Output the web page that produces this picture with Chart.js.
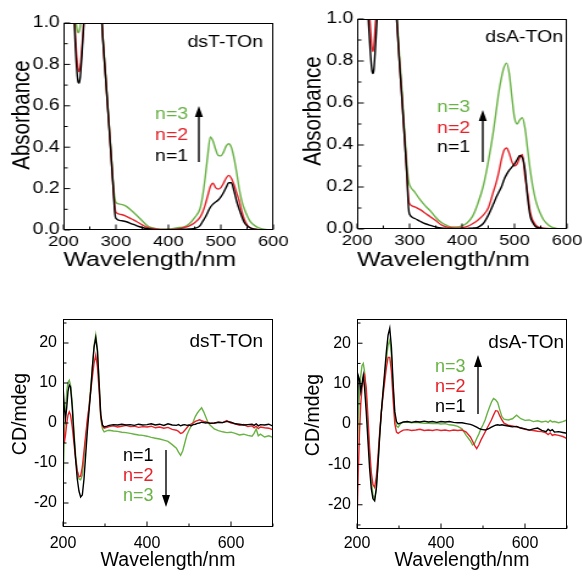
<!DOCTYPE html>
<html>
<head>
<meta charset="utf-8">
<title>dsT-TOn / dsA-TOn absorbance and CD spectra</title>
<script src="https://cdn.jsdelivr.net/npm/chart.js@4.4.1/dist/chart.umd.min.js"></script>
<style>
  html, body { margin: 0; padding: 0; background: #fff; }
  #fig { position: relative; width: 582px; height: 576px; overflow: hidden; }
  #fig canvas { position: absolute; }
  /* the top row of the figure is stretched sideways */
  #uvT { left: 0; top: 0; transform: scaleX(1.22); transform-origin: 0 0; }
  #uvA { left: 290px; top: 0; transform: scaleX(1.22); transform-origin: 0 0; }
  #cdT { left: 0; top: 290px; }
  #cdA { left: 290px; top: 290px; }
</style>
</head>
<body>
<div id="fig">
  <canvas id="uvT" width="240" height="285"></canvas>
  <canvas id="uvA" width="240" height="285"></canvas>
  <canvas id="cdT" width="290" height="286"></canvas>
  <canvas id="cdA" width="292" height="286"></canvas>
</div>
<script>
// ---- data ----
const seriesLabels = ['n=1', 'n=2', 'n=3'];
const seriesColors = ['#000000', '#e5232a', '#69b345'];

const uvXTicks = [200, 300, 400, 500, 600];
const uvYTicks = [0, 0.2, 0.4, 0.6, 0.8, 1.0];
const cdXTicks = [200, 400, 600];
const cdYTicks = [-20, -10, 0, 10, 20];

// absorbance, wavelength in nm
const uvWl = [200,210,215,220,222,225,228,230,232,235,238,240,245,250,260,270,275,280,285,290,295,298,
  300,310,320,330,340,350,360,370,380,390,400,410,420,430,440,450,460,
  465,470,475,480,485,490,495,500,505,510,515,520,525,530,535,540,545,550,555,560,
  570,580,590,600];

const absT_n1 = [2.0,1.8,1.4,1.05,0.93,0.79,0.715,0.71,0.74,0.84,0.96,1.05,1.3,1.5,1.6,1.15,0.93,0.75,0.57,0.39,0.2,0.08,
  0.056,0.045,0.04,0.03,0.02,0.012,0.006,0.003,0.002,0.002,0.002,0.002,0.003,0.004,0.005,0.008,0.02,
  0.04,0.06,0.085,0.11,0.125,0.135,0.145,0.16,0.18,0.205,0.228,0.228,0.19,0.14,0.1,0.065,0.035,0.02,0.012,0.006,
  0.002,0.001,0,0];
const absT_n2 = [2.0,1.8,1.45,1.08,0.98,0.85,0.775,0.765,0.79,0.87,0.98,1.05,1.3,1.5,1.6,1.15,0.93,0.75,0.57,0.39,0.2,0.11,
  0.085,0.075,0.066,0.053,0.04,0.025,0.012,0.007,0.004,0.003,0.003,0.004,0.006,0.012,0.02,0.035,0.06,
  0.085,0.12,0.165,0.21,0.226,0.205,0.198,0.205,0.225,0.25,0.264,0.25,0.22,0.18,0.14,0.09,0.05,0.025,0.012,0.006,
  0.003,0.001,0,0];
const absT_n3 = [2.0,1.8,1.5,1.15,1.07,0.985,0.953,0.96,0.985,1.05,1.12,1.15,1.35,1.5,1.6,1.16,0.94,0.76,0.58,0.4,0.22,0.15,
  0.133,0.124,0.114,0.093,0.07,0.045,0.02,0.01,0.005,0.004,0.005,0.008,0.012,0.015,0.03,0.06,0.1,
  0.16,0.25,0.36,0.45,0.43,0.39,0.36,0.358,0.375,0.405,0.417,0.4,0.35,0.28,0.2,0.14,0.1,0.07,0.045,0.03,
  0.013,0.005,0.001,0];

const absA_n1 = [2.0,1.8,1.4,1.07,0.97,0.85,0.76,0.74,0.76,0.87,1.0,1.08,1.3,1.5,1.6,1.2,1.02,0.82,0.64,0.45,0.25,0.1,
  0.07,0.05,0.037,0.025,0.017,0.01,0.005,0.003,0.002,0.002,0.002,0.003,0.004,0.008,0.025,0.065,0.12,
  0.15,0.175,0.2,0.235,0.26,0.28,0.295,0.31,0.33,0.35,0.34,0.28,0.15,0.06,0.03,0.012,0.006,0.003,0.002,0.001,
  0,0,0,0];
const absA_n2 = [2.0,1.8,1.45,1.15,1.07,0.97,0.87,0.845,0.87,0.98,1.06,1.1,1.3,1.5,1.6,1.2,1.02,0.82,0.64,0.45,0.26,0.14,
  0.12,0.105,0.092,0.075,0.057,0.04,0.02,0.01,0.006,0.005,0.006,0.012,0.025,0.042,0.065,0.1,0.18,
  0.22,0.27,0.33,0.375,0.386,0.36,0.32,0.3,0.31,0.34,0.355,0.25,0.17,0.08,0.04,0.02,0.01,0.007,0.004,0.003,
  0.001,0,0,0];
const absA_n3 = [2.0,1.8,1.6,1.4,1.3,1.2,1.15,1.13,1.15,1.2,1.3,1.35,1.45,1.55,1.6,1.22,1.04,0.85,0.67,0.48,0.3,0.23,
  0.21,0.175,0.14,0.11,0.085,0.055,0.032,0.018,0.01,0.01,0.015,0.03,0.06,0.12,0.2,0.32,0.47,
  0.56,0.65,0.72,0.77,0.79,0.74,0.63,0.53,0.5,0.52,0.53,0.48,0.38,0.28,0.2,0.14,0.1,0.07,0.045,0.03,
  0.01,0.003,0.001,0];

// CD in mdeg, wavelength in nm
const cdWl = [200,203,206,209,212,215,218,222,226,230,234,238,242,246,250,254,258,262,266,270,274,278,282,286,290,294,298,
  305,310,320,330,340,350,360,370,380,390,400,410,420,430,440,450,460,470,
  475,480,485,490,495,500,505,510,515,520,525,530,535,540,545,550,
  560,570,580,590,600,610,620,630,640,650,655,660,665,670,680,690,700];

const cdT_n1 = [9.5,4,1,4,8,9.5,9,4,-3,-9,-14,-17,-18.5,-18,-14,-8,-2,3,8,14,19,21.3,18,10,2,-0.5,-1,
  -0.8,-0.6,-0.4,-0.5,-0.3,-0.5,-0.4,-0.6,-0.3,-0.5,-0.4,-0.2,-0.5,-0.3,-0.6,-0.2,-0.5,-0.6,
  -0.4,-0.7,-0.5,-0.4,-0.6,-0.5,-0.7,-0.4,-0.3,-0.1,0,0.2,0.1,0,0.1,-0.1,
  0,0.2,0.1,0.4,0.2,-0.2,-0.3,-0.5,-0.4,-0.3,-0.6,-0.2,-0.7,-0.4,-0.5,-0.3,-0.8];
const cdT_n2 = [7,-5,-3,0,2,2.8,2,-1,-5,-9,-12,-13.4,-13.3,-11,-7,-3,1,4,8,11.5,15,17,14,8,1.5,-0.8,-1.3,
  -1.1,-0.9,-0.7,-1,-0.8,-0.6,-0.9,-0.8,-1.1,-0.9,-1,-0.8,-1.2,-1,-1.3,-1.1,-1.6,-1.8,
  -2.1,-2.6,-2.4,-1.8,-1.2,-0.6,-0.3,0,0.4,0.6,0.8,0.6,0.4,0.3,0.1,0,
  -0.1,0.2,0.1,0.6,0,-0.2,-0.6,-0.4,-0.9,-0.7,-1.2,-0.8,-1.4,-1,-1.2,-1.3,-1.7];
const cdT_n3 = [-16,-4,3,8,10.2,10.7,9.5,5,-2,-8,-12,-14,-14.2,-13,-9,-4,0,4,9,14,19.5,22,18.5,10,1,-1.5,-2.2,
  -1.9,-1.8,-2,-2.1,-2.3,-2.4,-2.6,-2.8,-3,-3.1,-3.3,-3.6,-3.8,-4,-4.3,-4.6,-5.4,-6.3,
  -7.3,-8.1,-7,-5,-3,-1.8,-0.8,0.3,1.6,2.5,3.2,3.8,2.8,1.5,0.2,-0.5,
  -1.5,-1.9,-2.2,-2.4,-2.3,-2.6,-3,-2.8,-3.1,-3.3,-2.6,-1.5,-3.2,-2.8,-3.5,-3.2,-3.6];

const cdA_n1 = [-2,12,11,8,10,12,9,3,-4,-11,-16,-18.5,-19,-16,-10,-3,3,8,13,18,22,23.7,19,10,3,0.6,0,
  0.3,0.5,0.6,0.4,0.6,0.5,0.7,0.5,0.6,0.4,0.6,0.5,0.6,0.4,0.3,0.3,0.1,-0.1,
  -0.3,-0.5,-0.8,-1.1,-1.3,-1.4,-1.5,-1.3,-1.1,-0.8,-0.5,-0.3,-0.2,-0.3,-0.2,-0.3,
  -0.5,-0.7,-0.6,-1,-1.2,-1.5,-1.2,-1,-1.6,-1.9,-1.3,-1.7,-1.4,-2,-1.9,-2.1,-2.3];
const cdA_n2 = [-25,-12,-2,5,9,11.5,12.2,9,2,-6,-12,-15,-15.7,-13,-8,-2,3,7,10.5,14,16.5,16.5,13,6,0,-2,-2.3,
  -1.8,-1.5,-1.4,-1.6,-1.5,-1.3,-1.6,-1.5,-1.6,-1.4,-1.6,-1.5,-1.7,-1.5,-1.6,-1.5,-2,-3.2,
  -4.2,-5.3,-6.1,-5.2,-4,-3,-2,-1,0,1,2.2,3.3,3.2,2,1,0.2,
  -0.3,-0.5,-0.7,-1,-1.3,-1.5,-1.6,-1.8,-1.9,-2.2,-2.6,-2.2,-2.8,-2.6,-2.8,-3.1,-3.6];
const cdA_n3 = [-12,0,8,12,14.5,15,13,7,-1,-8,-14,-17.5,-18.6,-16,-10,-3,3,8,12,16,19.5,20.8,17,9,2,-0.5,-0.8,
  0.2,0.4,0.5,0.3,0.4,0.3,0.2,0.2,0.1,0.2,0,0.1,-0.2,-0.3,-0.6,-1.2,-2.8,-4.2,
  -5.2,-4.8,-3.6,-2.5,-1.2,-0.2,1,2.6,4,5.4,6.3,6,5.3,3.5,1.8,1.2,
  1,1.3,2.2,1.3,0.9,1,0.6,0.8,0.5,0.7,0.4,0.9,0.5,0.6,0.3,0.6,1];

// ---- drawing ----
const fontFamily = "'Liberation Sans', Arial, Helvetica, sans-serif";
Chart.defaults.font.family = fontFamily;
Chart.defaults.color = '#000';

// panel decorations: spines, inward ticks, y title, in-plot labels, arrow
const decor = {
  uvT: { xMinor: 50, yMinor: 0.1, tick: [5, 3],
    yTitle: { text: 'Absorbance', x: 18, y: 115, size: 20.5 },
    labels: [
      { text: 'dsT-TOn', x: 215.6, y: 43, c: 0, size: 16, align: 'right' },
      { text: 'n=3', x: 127, y: 115, c: 2, size: 16, align: 'left' },
      { text: 'n=2', x: 127, y: 136, c: 1, size: 16, align: 'left' },
      { text: 'n=1', x: 127, y: 157, c: 0, size: 16, align: 'left' }
    ],
    arrow: { x: 163, from: 162, to: 106, half: 3.3, head: 11 } },
  uvA: { xMinor: 50, yMinor: 0.1, tick: [5, 3],
    yTitle: { text: 'Absorbance', x: 19, y: 111, size: 20.5 },
    labels: [
      { text: 'dsA-TOn', x: 223.8, y: 38, c: 0, size: 16, align: 'right' },
      { text: 'n=3', x: 120.5, y: 108, c: 2, size: 16, align: 'left' },
      { text: 'n=2', x: 120.5, y: 129, c: 1, size: 16, align: 'left' },
      { text: 'n=1', x: 120.5, y: 148, c: 0, size: 16, align: 'left' }
    ],
    arrow: { x: 158, from: 162, to: 110, half: 3.3, head: 11 } },
  cdT: { xMinor: 100, yMinor: 5, tick: [5, 3],
    yTitle: { text: 'CD/mdeg', x: 21, y: 124, size: 19.5 },
    labels: [
      { text: 'dsT-TOn', x: 263, y: 52, c: 0, size: 19, align: 'right' },
      { text: 'n=1', x: 123, y: 166, c: 0, size: 18, align: 'left' },
      { text: 'n=2', x: 123, y: 186, c: 1, size: 18, align: 'left' },
      { text: 'n=3', x: 123, y: 206, c: 2, size: 18, align: 'left' }
    ],
    arrow: { x: 166, from: 160, to: 217, half: 4, head: 12 } },
  cdA: { xMinor: 100, yMinor: 5, tick: [5, 3],
    yTitle: { text: 'CD/mdeg', x: 24, y: 125, size: 19.5 },
    labels: [
      { text: 'dsA-TOn', x: 274, y: 53, c: 0, size: 19, align: 'right' },
      { text: 'n=3', x: 145, y: 77, c: 2, size: 18, align: 'left' },
      { text: 'n=2', x: 145, y: 97, c: 1, size: 18, align: 'left' },
      { text: 'n=1', x: 145, y: 117, c: 0, size: 18, align: 'left' }
    ],
    arrow: { x: 188, from: 124, to: 65, half: 4, head: 12 } }
};

function eachTick(min, max, step, fn) {
  const first = Math.ceil(min / step - 1e-6), last = Math.floor(max / step + 1e-6);
  for (let i = first; i <= last; i++) fn(i * step, i % 2 === 0);
}

const frame = {
  id: 'frame',
  afterDatasetsDraw(chart) {
    const d = decor[chart.canvas.id];
    const { ctx, chartArea: a } = chart;
    const xs = chart.scales.x, ys = chart.scales.y;
    const L = Math.round(a.left) + 0.5, R = Math.round(a.right) - 0.5;
    const T = Math.round(a.top) + 0.5, B = Math.round(a.bottom) - 0.5;

    ctx.save();
    ctx.strokeStyle = '#000';
    ctx.lineWidth = 1;
    ctx.strokeRect(L, T, R - L, B - T);
    ctx.beginPath();
    eachTick(xs.min, xs.max, d.xMinor, (v, major) => {
      const px = xs.getPixelForValue(v);
      ctx.moveTo(px, B);
      ctx.lineTo(px, B - (major ? d.tick[0] : d.tick[1]));
    });
    eachTick(ys.min, ys.max, d.yMinor, (v, major) => {
      const py = ys.getPixelForValue(v);
      ctx.moveTo(L, py);
      ctx.lineTo(L + (major ? d.tick[0] : d.tick[1]), py);
    });
    ctx.stroke();

    // y axis title
    ctx.fillStyle = '#000';
    ctx.textAlign = 'center';
    ctx.textBaseline = 'middle';
    ctx.font = d.yTitle.size + 'px ' + fontFamily;
    ctx.save();
    ctx.translate(d.yTitle.x, d.yTitle.y);
    ctx.rotate(-Math.PI / 2);
    ctx.fillText(d.yTitle.text, 0, 0);
    ctx.restore();

    // in-plot labels
    d.labels.forEach(l => {
      ctx.fillStyle = seriesColors[l.c];
      ctx.textAlign = l.align;
      ctx.font = l.size + 'px ' + fontFamily;
      ctx.fillText(l.text, l.x, l.y);
    });

    // arrow
    const ar = d.arrow, dir = Math.sign(ar.to - ar.from);
    ctx.fillStyle = '#000';
    ctx.lineWidth = 1.4;
    ctx.beginPath();
    ctx.moveTo(ar.x, ar.from);
    ctx.lineTo(ar.x, ar.to - dir * ar.head);
    ctx.stroke();
    ctx.beginPath();
    ctx.moveTo(ar.x, ar.to);
    ctx.lineTo(ar.x - ar.half, ar.to - dir * ar.head);
    ctx.lineTo(ar.x + ar.half, ar.to - dir * ar.head);
    ctx.closePath();
    ctx.fill();
    ctx.restore();
  }
};

function datasets(xs, sets, smooth) {
  return sets.map((ys, i) => ({
    label: seriesLabels[i],
    data: xs.map((x, k) => ({ x: x, y: ys[k] })),
    borderColor: seriesColors[i],
    borderWidth: 1.4,
    pointRadius: 0,
    cubicInterpolationMode: smooth ? 'monotone' : 'default',
    tension: 0
  }));
}

// area = [left, right, top, bottom] of the plot box in canvas pixels
function panel(id, cfg) {
  const el = document.getElementById(id);
  const w = el.width, h = el.height, a = cfg.area;
  return new Chart(el, {
    type: 'line',
    data: { datasets: cfg.datasets },
    options: {
      responsive: false,
      animation: false,
      devicePixelRatio: 1,
      layout: { padding: { left: 0, top: a[2], right: w - a[1], bottom: 0 } },
      plugins: { legend: { display: false }, tooltip: { enabled: false } },
      scales: {
        x: {
          type: 'linear', min: cfg.xRange[0], max: cfg.xRange[1],
          grid: { display: false, drawTicks: false }, border: { display: false },
          ticks: { font: { size: cfg.xTickSize }, padding: cfg.xTickPad, maxRotation: 0, autoSkip: false, color: '#000' },
          afterBuildTicks: s => { s.ticks = cfg.xTicks.map(v => ({ value: v })); },
          afterFit: s => { s.height = h - a[3]; s.paddingLeft = 0; s.paddingRight = 0; },
          title: { display: true, text: 'Wavelength/nm', align: cfg.xTitleAlign, color: '#000',
                   font: { size: cfg.xTitleSize }, padding: { top: 0, bottom: cfg.xTitlePad } }
        },
        y: {
          type: 'linear', min: cfg.yRange[0], max: cfg.yRange[1],
          grid: { display: false, drawTicks: false }, border: { display: false },
          ticks: { font: { size: 16 }, padding: cfg.yTickPad, color: '#000', callback: cfg.yFormat },
          afterBuildTicks: s => { s.ticks = cfg.yTicks.map(v => ({ value: v })); },
          afterFit: s => { s.width = a[0]; s.paddingTop = 0; s.paddingBottom = 0; }
        }
      }
    },
    plugins: [frame]
  });
}

const absFormat = v => v.toFixed(1);
const cdFormat = v => String(v);

panel('uvT', {
  datasets: datasets(uvWl, [absT_n1, absT_n2, absT_n3], true),
  area: [52, 224, 23, 230], xRange: [200, 600], yRange: [0, 1],
  xTicks: uvXTicks, yTicks: uvYTicks, yFormat: absFormat,
  xTickSize: 15, xTickPad: 3, yTickPad: 3, xTitleAlign: 'start', xTitleSize: 20.5, xTitlePad: 12
});
panel('uvA', {
  datasets: datasets(uvWl, [absA_n1, absA_n2, absA_n3], true),
  area: [55, 227, 19, 229], xRange: [200, 600], yRange: [0, 1],
  xTicks: uvXTicks, yTicks: uvYTicks, yFormat: absFormat,
  xTickSize: 15, xTickPad: 3, yTickPad: 3, xTitleAlign: 'start', xTitleSize: 20.5, xTitlePad: 12
});
panel('cdT', {
  datasets: datasets(cdWl, [cdT_n1, cdT_n2, cdT_n3], false),
  area: [63, 273, 29, 237], xRange: [200, 700], yRange: [-26, 26],
  xTicks: cdXTicks, yTicks: cdYTicks, yFormat: cdFormat,
  xTickSize: 16, xTickPad: 7, yTickPad: 6, xTitleAlign: 'center', xTitleSize: 19.5, xTitlePad: 4
});
panel('cdA', {
  datasets: datasets(cdWl, [cdA_n1, cdA_n2, cdA_n3], false),
  area: [67, 277, 29, 239], xRange: [200, 700], yRange: [-26, 26],
  xTicks: cdXTicks, yTicks: cdYTicks, yFormat: cdFormat,
  xTickSize: 16, xTickPad: 5, yTickPad: 6, xTitleAlign: 'center', xTitleSize: 19.5, xTitlePad: 4
});
</script>
</body>
</html>
